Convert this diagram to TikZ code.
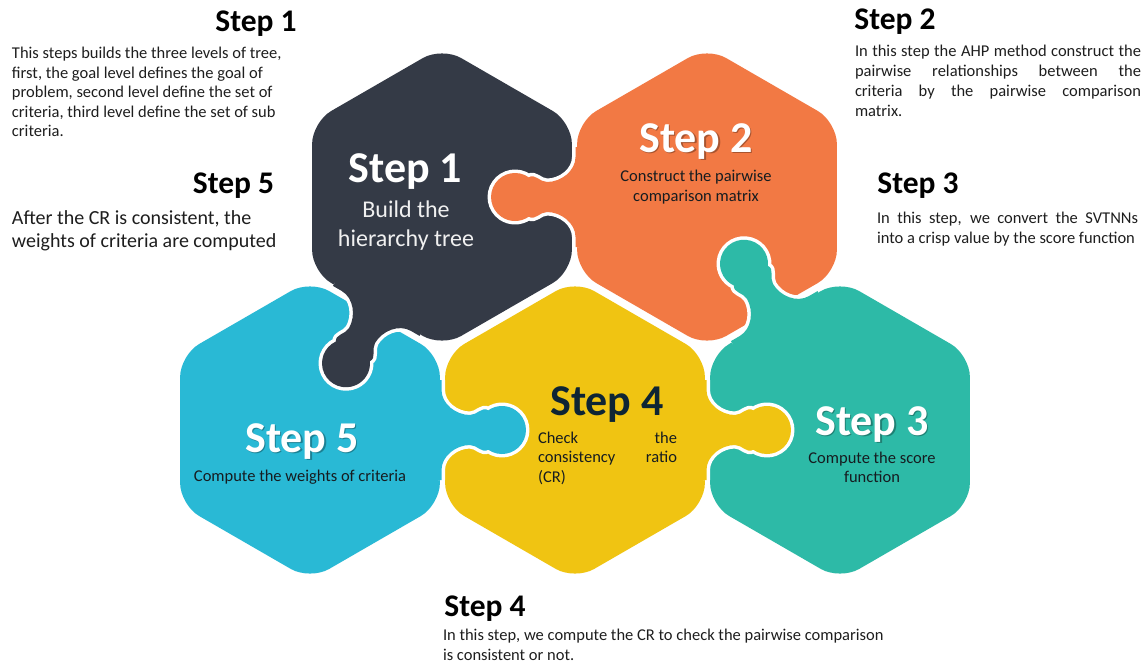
\documentclass[tikz,border=0pt]{standalone}
\usepackage{fontspec}
\setmainfont{Carlito}
\definecolor{darkpiece}{RGB}{52,58,70}
\definecolor{orangepiece}{RGB}{242,121,68}
\definecolor{yellowpiece}{RGB}{240,196,18}
\definecolor{cyanpiece}{RGB}{41,185,213}
\definecolor{tealpiece}{RGB}{45,186,167}
\definecolor{navytext}{RGB}{14,37,52}
\definecolor{inktext}{RGB}{22,28,32}
\definecolor{bodytext}{RGB}{30,30,30}

% rounded hexagonal puzzle body around a centre
\newcommand{\hexpiece}[2]{%
  \fill[#2, rounded corners=22pt, shift={(#1)}]
    (0,-150) -- (129.9,-75) -- (129.9,75) -- (0,150) -- (-129.9,75) -- (-129.9,-75) -- cycle;}

% puzzle knob leaving a piece (centre, direction, colour) with a white cut line
\newcommand{\knobpiece}[3]{%
  \begin{scope}[shift={(#1)}, rotate=#2]
    \draw[white, line width=7pt, line join=round]
      (131.5,50) -- (131.5,40) .. controls (131.5,26) and (146,15) .. (160,15)
      to[out=0,in=215] (178.2,19.66) arc[start angle=125,end angle=-125,radius=24]
      to[out=145,in=0] (160,-15) .. controls (146,-15) and (131.5,-26) .. (131.5,-40)
      -- (131.5,-50);
    \fill[#3]
      (122,50) -- (131.5,50) -- (131.5,40) .. controls (131.5,26) and (146,15) .. (160,15)
      to[out=0,in=215] (178.2,19.66) arc[start angle=125,end angle=-125,radius=24]
      to[out=145,in=0] (160,-15) .. controls (146,-15) and (131.5,-26) .. (131.5,-40)
      -- (131.5,-50) -- (122,-50) -- cycle;
  \end{scope}}

\tikzset{
  txt/.style={inner sep=0pt, outer sep=0pt},
  head/.style={txt, anchor=base, text=black, font=\fontsize{31.5}{36}\selectfont\bfseries},
  body/.style={txt, anchor=base west, text=bodytext, font=\fontsize{16.5}{19.5}\selectfont},
  bigbody/.style={txt, anchor=base west, text=bodytext, font=\fontsize{20}{23}\selectfont},
  hextitle/.style={txt, anchor=base, font=\fontsize{44}{50}\selectfont\bfseries},
  hexshadow/.style={hextitle, text=black, opacity=0.3},
  hexsub/.style={txt, anchor=base, text=inktext, font=\fontsize{16.5}{19.5}\selectfont},
}

\begin{document}
\begin{tikzpicture}[x=1pt, y=-1pt]
\useasboundingbox (0,0) rectangle (1146,670);
\fill[white] (0,0) rectangle (1146,670);

% piece centres
\coordinate (pdark)   at (442,197);
\coordinate (porange) at (707,197);
\coordinate (pcyan)   at (310,430);
\coordinate (pyellow) at (575,430);
\coordinate (pteal)   at (840,430);

% bodies
\hexpiece{pcyan}{cyanpiece}
\hexpiece{pyellow}{yellowpiece}
\hexpiece{pteal}{tealpiece}
\hexpiece{pdark}{darkpiece}
\hexpiece{porange}{orangepiece}

% knobs
\knobpiece{pdark}{240}{darkpiece}
\knobpiece{porange}{180}{orangepiece}
\knobpiece{pteal}{120}{tealpiece}
\knobpiece{pyellow}{0}{yellowpiece}
\knobpiece{pcyan}{0}{cyanpiece}

% labels inside the pieces
\node[hextitle, text=white] (h1) at (405.5,182) {Step 1};
\node[txt, anchor=base, text=white!94!black, font=\fontsize{24}{29}\selectfont] (h1a) at (406,217) {Build the};
\node[txt, anchor=base, text=white!94!black, font=\fontsize{24}{29}\selectfont] (h1b) at (406,246.5) {hierarchy tree};

\node[hexshadow] (h2s) at (697.5,153.5) {Step 2};
\node[hextitle, text=white] (h2) at (696,152) {Step 2};
\node[hexsub] (h2a) at (696,181.5) {Construct the pairwise};
\node[hexsub] (h2b) at (696,201) {comparison matrix};

\node[hexshadow] (h5s) at (303.5,453.5) {Step 5};
\node[hextitle, text=white] (h5) at (302,452) {Step 5};
\node[hexsub] (h5a) at (300,481.5) {Compute the weights of criteria};

\node[hextitle, text=navytext] (h4) at (607,415) {Step 4};
\node[hexsub, anchor=base west] (h4a) at (538,443) {\makebox[139pt][s]{Check the}};
\node[hexsub, anchor=base west] (h4b) at (538,462.5) {\makebox[139pt][s]{consistency ratio}};
\node[hexsub, anchor=base west] (h4c) at (538,482) {(CR)};

\node[hexshadow] (h3s) at (873.5,436.5) {Step 3};
\node[hextitle, text=white] (h3) at (872,435) {Step 3};
\node[hexsub] (h3a) at (872,463.3) {Compute the score};
\node[hexsub] (h3b) at (872,482) {function};

% Step 1 note
\node[head] (n1) at (256,31.5) {Step 1};
\node[body] (n1a) at (12,58.7)  {This steps builds the three levels of tree,};
\node[body] (n1b) at (12,78.2)  {first, the goal level defines the goal of};
\node[body] (n1c) at (12,97.7)  {problem, second level define the set of};
\node[body] (n1d) at (12,117.2) {criteria, third level define the set of sub};
\node[body] (n1e) at (12,136.7) {criteria.};

% Step 2 note
\node[head] (n2) at (895,29.5) {Step 2};
\node[body] (n2a) at (855,56.3) {\makebox[286pt][s]{In this step the AHP method construct the}};
\node[body] (n2b) at (855,76.4) {\makebox[286pt][s]{pairwise relationships between the}};
\node[body] (n2c) at (855,96.5) {\makebox[286pt][s]{criteria by the pairwise comparison}};
\node[body] (n2d) at (855,116.6) {matrix.};

% Step 5 note
\node[head] (n5) at (233.5,193.3) {Step 5};
\node[bigbody] (n5a) at (12,224) {After the CR is consistent, the};
\node[bigbody] (n5b) at (12,247) {weights of criteria are computed};

% Step 3 note
\node[head] (n3) at (918,193.3) {Step 3};
\node[body] (n3a) at (877,223.5) {\makebox[261pt][s]{In this step, we convert the SVTNNs}};
\node[body] (n3b) at (877,243) {into a crisp value by the score function};

% Step 4 note
\node[head] (n4) at (485,616.7) {Step 4};
\node[body] (n4a) at (443,640.5) {In this step, we compute the CR to check the pairwise comparison};
\node[body] (n4b) at (443,660.5) {is consistent or not.};
\end{tikzpicture}
\end{document}
